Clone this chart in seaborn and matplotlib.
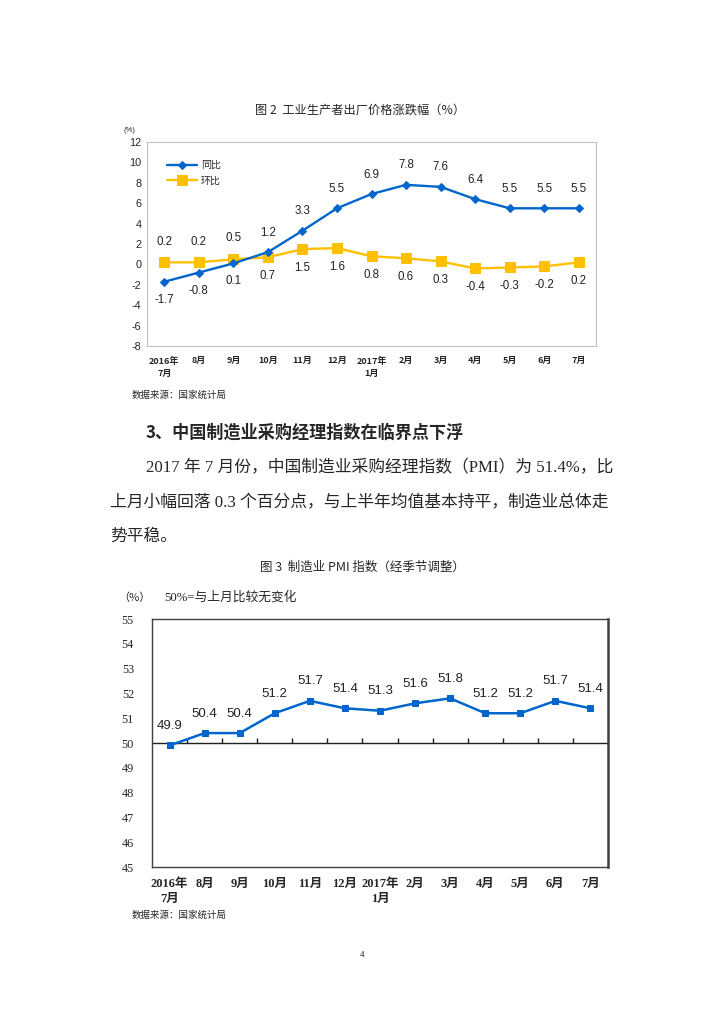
import numpy as np
import pandas as pd
import matplotlib
matplotlib.use('Agg')
import matplotlib.pyplot as plt
import seaborn as sns

# data
months = ['2016年\n7月', '8月', '9月', '10月', '11月', '12月', '2017年\n1月',
          '2月', '3月', '4月', '5月', '6月', '7月']
ppi_yoy = [-1.7, -0.8, 0.1, 1.2, 3.3, 5.5, 6.9, 7.8, 7.6, 6.4, 5.5, 5.5, 5.5]
ppi_mom = [0.2, 0.2, 0.5, 0.7, 1.5, 1.6, 0.8, 0.6, 0.3, -0.4, -0.3, -0.2, 0.2]
pmi = [49.9, 50.4, 50.4, 51.2, 51.7, 51.4, 51.3, 51.6, 51.8, 51.2, 51.2, 51.7, 51.4]
ppi_ticks = list(range(-8, 13, 2))
pmi_ticks = list(range(45, 56))

W, H = 724, 1024
BLUE = '#0066CC'
GOLD = '#FFC000'
SANS = ['Liberation Sans', 'Noto Sans CJK SC']
SERIF = ['Liberation Serif', 'Noto Sans CJK SC']


def fx(x):
    return x / W


def fy(y):
    return 1 - y / H


def page_text(x, y, s, **kw):
    fig.text(fx(x), fy(y), s, va='center', **kw)


sns.set_style('white')
plt.rcParams['font.family'] = ['Noto Sans CJK SC', 'DejaVu Sans']

df = pd.DataFrame({'pos': range(len(months)), 'yoy': ppi_yoy,
                   'mom': ppi_mom, 'pmi': pmi})
n = len(months)

fig = plt.figure(figsize=(W / 100, H / 100), dpi=100)

# ---- chart 1: PPI ----
page_text(360, 110, '图 2  工业生产者出厂价格涨跌幅（%）', ha='center', fontsize=8.8)
page_text(129, 130, '(%)', ha='center', fontsize=5.5, family=SANS)

ax1 = fig.add_axes([fx(147), fy(346), fx(596 - 147), (346 - 142) / H])
sns.lineplot(data=df, x='pos', y='yoy', ax=ax1, color=BLUE, marker='D',
             markersize=4, markeredgecolor=BLUE, lw=1.7, label='同比', zorder=3)
sns.lineplot(data=df, x='pos', y='mom', ax=ax1, color=GOLD, marker='s',
             markersize=6.5, markeredgecolor=GOLD, lw=1.7, label='环比', zorder=2)

for i, v in enumerate(ppi_yoy):
    dy = -13 if i < 3 else 14
    ax1.annotate(f'{v:.1f}', (i, v), xytext=(0, dy), textcoords='offset points',
                 ha='center', va='center', fontsize=8.3, family=SANS, color='#222222')
for i, v in enumerate(ppi_mom):
    dy = 15 if i < 3 else -13.5
    ax1.annotate(f'{v:.1f}', (i, v), xytext=(0, dy), textcoords='offset points',
                 ha='center', va='center', fontsize=8.3, family=SANS, color='#222222')

ax1.set_xlim(-0.5, n - 0.5)
ax1.set_ylim(-8, 12)
ax1.set_yticks(ppi_ticks)
ax1.set_yticklabels([str(t) for t in ppi_ticks], family=SANS, fontsize=7.8)
ax1.set_xticks(range(n))
ax1.set_xticklabels(months, fontsize=6.5, fontweight='bold', linespacing=1.5)
ax1.set_xticks(np.arange(0.5, n - 1, 1), minor=True)
ax1.tick_params(axis='x', which='major', length=0, pad=7.5)
ax1.tick_params(axis='x', which='minor', direction='in', length=5, color='#A0A0A0')
ax1.tick_params(axis='y', length=0, pad=4)
ax1.set_xlabel('')
ax1.set_ylabel('')
for sp in ax1.spines.values():
    sp.set_color('#C0C0C0')
    sp.set_linewidth(0.8)
ax1.legend(loc='upper left', bbox_to_anchor=(0.035, 0.93), frameon=False,
           fontsize=7.2, handlelength=3.0, handletextpad=0.4,
           labelspacing=0.55, borderaxespad=0)

page_text(132, 395, '数据来源：国家统计局', ha='left', fontsize=6.8)

# ---- text block ----
page_text(146, 433, '3、中国制造业采购经理指数在临界点下浮', ha='left',
          fontsize=12.3, fontweight='bold')
page_text(146, 468, '2017 年 7 月份，中国制造业采购经理指数（PMI）为 51.4%，比',
          ha='left', fontsize=12.1, family=SERIF)
page_text(110, 503, '上月小幅回落 0.3 个百分点，与上半年均值基本持平，制造业总体走',
          ha='left', fontsize=12.1, family=SERIF)
page_text(110, 537, '势平稳。', ha='left', fontsize=12.1, family=SERIF)

# ---- chart 2: PMI ----
page_text(362, 567, '图 3  制造业 PMI 指数（经季节调整）', ha='center', fontsize=9)
page_text(134, 598, '（%）', ha='center', fontsize=8)
page_text(164, 597, '50%=与上月比较无变化', ha='left', fontsize=9.2, family=SERIF)

ax2 = fig.add_axes([fx(152), fy(867), fx(608 - 152), (867 - 619) / H])
sns.lineplot(data=df, x='pos', y='pmi', ax=ax2, color=BLUE, marker='s',
             markersize=5, markeredgecolor=BLUE, lw=1.8, zorder=3)
ax2.axhline(50, color='#202020', lw=1, zorder=2)
ax2.vlines(np.arange(0.5, n - 1, 1), 50, 50.2, color='#202020', lw=1)

for i, v in enumerate(pmi):
    ax2.annotate(f'{v:.1f}', (i, v), xytext=(0, 14), textcoords='offset points',
                 ha='center', va='center', fontsize=9.5, family=SANS, color='#222222')

ax2.set_xlim(-0.5, n - 0.5)
ax2.set_ylim(45, 55)
ax2.set_yticks(pmi_ticks)
ax2.set_yticklabels([str(t) for t in pmi_ticks], family=SERIF, fontsize=8.8)
ax2.set_xticks(range(n))
ax2.set_xticklabels(months, fontsize=9, family=SERIF, fontweight='bold', linespacing=1.3)
ax2.tick_params(axis='x', length=0, pad=8)
ax2.tick_params(axis='y', direction='in', length=3, pad=13, color='#606060')
ax2.set_xlabel('')
ax2.set_ylabel('')
for sp in ax2.spines.values():
    sp.set_color('#404040')
    sp.set_linewidth(1)
ax2.spines['right'].set_linewidth(1.8)

page_text(132, 915, '数据来源：国家统计局', ha='left', fontsize=6.8)
page_text(362, 955, '4', ha='center', fontsize=6.5, family=SERIF)

fig.savefig('out.png', dpi=100, facecolor='white')
